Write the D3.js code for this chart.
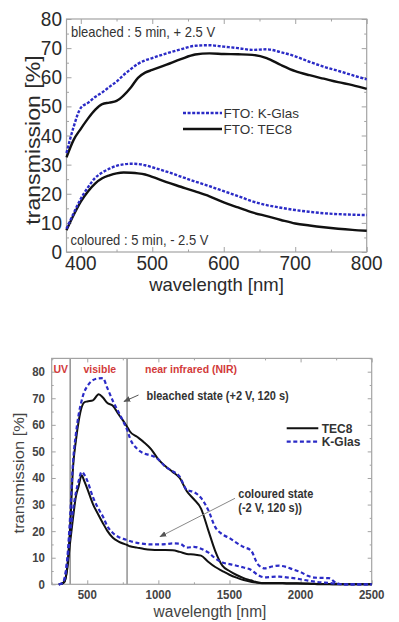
<!DOCTYPE html>
<html>
<head>
<meta charset="utf-8">
<script src="https://cdn.jsdelivr.net/npm/d3@7"></script>
<style>
  body { margin: 0; background: #fff; }
  svg { display: block; font-family: "Liberation Sans", Arial, sans-serif; }
</style>
</head>
<body>
<svg id="chart" width="399" height="622"></svg>
<script>
// ---- top panel: 380-800 nm ----
const wlTop = [380, 390, 400, 410, 420, 430, 440, 450, 460, 470, 480, 490, 500, 520, 540, 560, 580, 600, 620, 640, 660, 680, 700, 720, 740, 760, 780, 800];
const kglasBleachedTop = [34, 43, 49.5, 51.2, 53.2, 54.8, 56.7, 58.5, 60.8, 62.8, 64.6, 65.8, 66.6, 68.2, 69.6, 70.8, 71, 70.5, 70, 69.4, 69.6, 68.6, 67.2, 65.3, 63.6, 62.2, 60.7, 59.3];
const tec8BleachedTop = [32.5, 38.5, 42.3, 45.8, 48.8, 50.8, 51.3, 51.9, 53.8, 56.5, 59.8, 61.6, 62.5, 64.3, 66.2, 67.8, 68.2, 68, 67.9, 67.7, 66.6, 64.2, 62.1, 60.7, 59.5, 58.3, 57.3, 56];
const kglasColouredTop = [8, 13.3, 18.3, 22.2, 25.4, 27.3, 28.6, 29.6, 30.1, 30.3, 30.2, 29.8, 29.1, 27.6, 25.9, 24.2, 22.6, 20.9, 19.2, 17.4, 16.1, 15.2, 14.4, 13.8, 13.3, 13, 12.8, 12.7];
const tec8ColouredTop = [7.5, 12.7, 17.3, 20.8, 23.5, 25.3, 26.3, 27, 27.3, 27.2, 27, 26.6, 25.8, 24, 22.4, 20.8, 19.1, 17, 15.3, 13.6, 12.3, 11, 9.8, 9.1, 8.5, 8, 7.6, 7.3];
const xTicksTop = [400, 500, 600, 700, 800];
const xMinorTop = [450, 550, 650, 750];
const yTicksTop = [0, 10, 20, 30, 40, 50, 60, 70, 80];
const yMinorTop = [5, 15, 25, 35, 45, 55, 65, 75];

// ---- bottom panel: 250-2500 nm ----
const wlBot = [300, 320, 340, 360, 380, 400, 420, 440, 460, 480, 500, 540, 580, 610, 640, 680, 720, 760, 780, 800, 850, 900, 950, 1000, 1050, 1100, 1150, 1200, 1250, 1300, 1350, 1400, 1450, 1500, 1550, 1600, 1650, 1700, 1750, 1800, 1850, 1900, 1950, 2000, 2050, 2100, 2150, 2200, 2250, 2300, 2400, 2500];
const tec8BleachedBot = [0, 0.2, 1, 7, 22, 44, 54, 61.5, 66.5, 68.5, 68.8, 69.2, 71.5, 70.3, 68.3, 67.2, 64, 61, 59.3, 57.5, 55.5, 53.4, 50.8, 47, 44.4, 42.3, 40, 35, 32, 28.5, 20.5, 12.5, 7, 5, 3.5, 2.3, 1.5, 0.7, 0.5, 0.5, 0.5, 0.4, 0.4, 0.3, 0.3, 0.2, 0.1, 0.1, 0, 0, 0, 0];
const kglasBleachedBot = [0, 0.3, 2, 10, 26, 46, 56.5, 64, 69, 72.5, 74.5, 76.8, 77.5, 77.6, 74, 69, 64.8, 60.5, 58.2, 55, 51, 49.2, 48.5, 47, 44.2, 42.6, 40.5, 35.5, 34.7, 32.5, 28, 21.5, 18.8, 17.4, 15.6, 14, 12.8, 7.5, 6, 6.7, 7, 6.5, 5.5, 4.6, 3.2, 2.5, 2.4, 2.3, 0.5, 0, 0, 0];
const tec8ColouredBot = [0, 0.2, 1, 6, 16, 25, 33, 37, 41, 38.7, 36, 30.2, 26, 23, 20.2, 17.5, 16.1, 15.2, 14.8, 14.3, 13.8, 13.3, 13, 12.9, 12.9, 12.8, 12.2, 11.4, 11.2, 10.8, 8.5, 6.5, 5, 3.6, 2.5, 1.6, 1, 0.6, 0.4, 0.4, 0.4, 0.3, 0.3, 0.3, 0.2, 0.1, 0, 0, 0, 0, 0, 0];
const kglasColouredBot = [0, 0.3, 2, 9, 19, 28, 34.5, 39, 42.3, 41.2, 39, 32.8, 28.3, 25.5, 22, 19.3, 17.8, 17, 16.7, 16.3, 15.6, 15.2, 15, 15, 15.1, 15.4, 15.3, 13.8, 14.1, 13.4, 12, 9.8, 8.2, 7.6, 7, 6.3, 5.5, 3.5, 2.6, 2.8, 2.9, 2.6, 2.3, 1.9, 1.4, 1, 0.7, 0.5, 0.2, 0, 0, 0];
const xTicksBot = [500, 1000, 1500, 2000, 2500];
const xMinorBot = [250, 750, 1250, 1750, 2250];
const yTicksBot = [0, 10, 20, 30, 40, 50, 60, 70, 80];
const yMinorBot = [5, 15, 25, 35, 45, 55, 65, 75, 85];
const regionLines = [380, 780];

const BLUE = "#2b2bc6";
const FRAME = "#a3a3a3";

const svg = d3.select("#chart");
const defs = svg.append("defs");
defs.append("marker")
  .attr("id", "arrow")
  .attr("viewBox", "0 0 10 10")
  .attr("refX", 9)
  .attr("refY", 5)
  .attr("markerWidth", 7)
  .attr("markerHeight", 7)
  .attr("orient", "auto")
  .append("path")
  .attr("d", "M0,1 L10,5 L0,9 Z")
  .attr("fill", "#555");

// text slightly taller than wide, like the scanned figure
function label(g, x, y, str, size, opts = {}) {
  const stretch = opts.stretch || 1.1;
  return g.append("text")
    .attr("transform", `translate(${x},${y}) scale(1,${stretch})${opts.rotate ? " rotate(-90)" : ""}`)
    .attr("text-anchor", opts.anchor || "start")
    .style("font-size", size + "px")
    .style("font-weight", opts.bold ? "bold" : "normal")
    .style("fill", opts.color || "#222")
    .text(str);
}

function frame(g, x, y, o) {
  const [xl, xr] = x.range();
  const [yb, yt] = y.range();
  const sides = [
    [d3.axisBottom, x, `translate(0,${yb})`, o.xMajor, o.xMinor],
    [d3.axisTop, x, `translate(0,${yt})`, o.xMajor, o.xMinor],
    [d3.axisLeft, y, `translate(${xl},0)`, o.yMajor, o.yMinor],
    [d3.axisRight, y, `translate(${xr},0)`, o.yMajor, o.yMinor]
  ];
  sides.forEach(([axis, sc, tr, major, minor]) => {
    [[major, o.tick], [minor, o.tick / 2]].forEach(([vals, len]) => {
      g.append("g")
        .attr("transform", tr)
        .call(axis(sc).tickValues(vals.filter((v) => v >= sc.domain()[0] && v <= sc.domain()[1])).tickSize(-len).tickFormat(""))
        .call((s) => s.select(".domain").remove())
        .selectAll("line")
        .attr("stroke", FRAME);
    });
  });
  g.append("rect")
    .attr("x", xl)
    .attr("y", yt)
    .attr("width", xr - xl)
    .attr("height", yb - yt)
    .attr("fill", "none")
    .attr("stroke", FRAME)
    .attr("stroke-width", 1.2);
}

function series(g, x, y, xs, ys, dashed, width, dash) {
  const line = d3.line()
    .x((d) => x(d[0]))
    .y((d) => y(d[1]))
    .curve(d3.curveMonotoneX);
  g.append("path")
    .datum(xs.map((v, i) => [v, ys[i]]))
    .attr("fill", "none")
    .attr("stroke", dashed ? BLUE : "#111")
    .attr("stroke-width", width)
    .attr("stroke-dasharray", dashed ? dash : null)
    .attr("d", line);
}

// ================= top panel =================
const topPanel = svg.append("g");
const xTop = d3.scaleLinear().domain([380, 800]).range([66.5, 366.7]);
const yTop = d3.scaleLinear().domain([0, 80]).range([252, 19]);

frame(topPanel, xTop, yTop, { xMajor: xTicksTop, xMinor: xMinorTop, yMajor: yTicksTop, yMinor: yMinorTop, tick: 5 });

series(topPanel, xTop, yTop, wlTop, tec8BleachedTop, false, 2.4);
series(topPanel, xTop, yTop, wlTop, tec8ColouredTop, false, 2.4);
series(topPanel, xTop, yTop, wlTop, kglasBleachedTop, true, 2.4, "3,1.6");
series(topPanel, xTop, yTop, wlTop, kglasColouredTop, true, 2.4, "3,1.6");

yTicksTop.forEach((v) => label(topPanel, 62, yTop(v) + 7, v, 19, { anchor: "end", color: "#2a2a2a" }));
xTicksTop.forEach((v) => label(topPanel, xTop(v), 270, v, 19, { anchor: "middle", color: "#2a2a2a" }));
label(topPanel, 216.5, 291, "wavelength [nm]", 18.5, { anchor: "middle", color: "#2a2a2a", stretch: 1 });
label(topPanel, 40, 140, "transmission [%]", 21, { anchor: "middle", rotate: true, color: "#2a2a2a" });

label(topPanel, 71, 36.5, "bleached : 5 min, + 2.5 V", 13, { color: "#333" });
label(topPanel, 70.5, 245, "coloured : 5 min, - 2.5 V", 13, { color: "#333" });

// legend
topPanel.append("line").attr("x1", 183).attr("x2", 222).attr("y1", 113).attr("y2", 113)
  .attr("stroke", BLUE).attr("stroke-width", 2.4).attr("stroke-dasharray", "3,1.6");
topPanel.append("line").attr("x1", 183).attr("x2", 222).attr("y1", 129).attr("y2", 129)
  .attr("stroke", "#111").attr("stroke-width", 2.4);
label(topPanel, 223.5, 117.5, "FTO: K-Glas", 13.5, { color: "#333", stretch: 1 });
label(topPanel, 223.5, 133.5, "FTO: TEC8", 13.5, { color: "#333", stretch: 1 });

// ================= bottom panel =================
const botPanel = svg.append("g");
const xBot = d3.scaleLinear().domain([250, 2500]).range([51.7, 371.7]);
const yBot = d3.scaleLinear().domain([0, 85]).range([584.3, 358.4]);

regionLines.forEach((v) => {
  botPanel.append("line")
    .attr("x1", xBot(v)).attr("x2", xBot(v))
    .attr("y1", yBot(85)).attr("y2", yBot(0))
    .attr("stroke", "#999").attr("stroke-width", 1.6);
});

frame(botPanel, xBot, yBot, { xMajor: xTicksBot, xMinor: xMinorBot, yMajor: yTicksBot, yMinor: yMinorBot, tick: 4 });

series(botPanel, xBot, yBot, wlBot, tec8BleachedBot, false, 2);
series(botPanel, xBot, yBot, wlBot, tec8ColouredBot, false, 2);
series(botPanel, xBot, yBot, wlBot, kglasBleachedBot, true, 2.2, "4,2.6");
series(botPanel, xBot, yBot, wlBot, kglasColouredBot, true, 2.2, "4,2.6");

yTicksBot.forEach((v) => label(botPanel, 45, yBot(v) + 4.5, v, 11.5, { anchor: "end", bold: true, color: "#444" }));
xTicksBot.forEach((v) => label(botPanel, xBot(v), 598.5, v, 11.5, { anchor: "middle", bold: true, color: "#444" }));
label(botPanel, 210, 616.5, "wavelength [nm]", 15.5, { anchor: "middle", color: "#444" });
label(botPanel, 24, 473, "transmission [%]", 15, { anchor: "middle", rotate: true, color: "#444" });

// region names
const RED = "#d23a3a";
label(botPanel, 53.5, 372.5, "UV", 10.5, { bold: true, color: RED });
label(botPanel, 83.5, 372.5, "visible", 10.5, { bold: true, color: RED });
label(botPanel, 145, 372.5, "near infrared (NIR)", 10.5, { bold: true, color: RED });

// annotations
label(botPanel, 146.5, 400, "bleached state (+2 V, 120 s)", 11, { bold: true, color: "#333" });
botPanel.append("line").attr("x1", 138.5).attr("y1", 395).attr("x2", 124).attr("y2", 401.5)
  .attr("stroke", "#555").attr("stroke-width", 1).attr("marker-end", "url(#arrow)");
label(botPanel, 238.3, 498.3, "coloured state", 11, { bold: true, color: "#333" });
label(botPanel, 238.3, 511.7, "(-2 V, 120 s))", 11, { bold: true, color: "#333" });
botPanel.append("line").attr("x1", 235).attr("y1", 498.3).attr("x2", 160).attr("y2", 536.7)
  .attr("stroke", "#888").attr("stroke-width", 1).attr("marker-end", "url(#arrow)");

// legend
botPanel.append("line").attr("x1", 286.7).attr("x2", 318.3).attr("y1", 428.3).attr("y2", 428.3)
  .attr("stroke", "#111").attr("stroke-width", 2);
botPanel.append("line").attr("x1", 286.7).attr("x2", 318.3).attr("y1", 441.7).attr("y2", 441.7)
  .attr("stroke", BLUE).attr("stroke-width", 2.2).attr("stroke-dasharray", "4,2.6");
label(botPanel, 321.7, 432.5, "TEC8", 12, { bold: true, color: "#333" });
label(botPanel, 321.7, 446, "K-Glas", 12, { bold: true, color: "#333" });
</script>
</body>
</html>
